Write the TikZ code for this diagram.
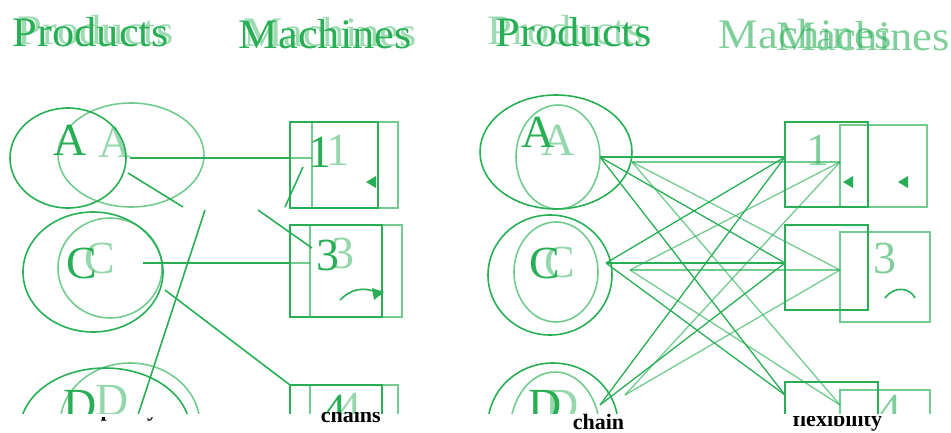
\documentclass[tikz,border=0pt]{standalone}
\usepackage{fontspec}
\setmainfont{Liberation Serif}
\definecolor{gr}{RGB}{40,175,85}
\begin{document}
\begin{tikzpicture}[x=1pt,y=-1pt,line width=1.6pt,
  g/.style={draw=gr},
  gl/.style={draw=gr,opacity=0.65},
  title/.style={text=gr,font=\fontsize{42}{42}\selectfont,anchor=base west,inner sep=0,xscale=1.06},
  lab/.style={text=gr,font=\fontsize{46}{46}\selectfont,inner sep=0},
  capt/.style={font=\bfseries\fontsize{22}{22}\selectfont,anchor=base west,inner sep=0}]
\useasboundingbox (0,0) rectangle (951,432);

% titles
\node[title] (pl1) at (12,46) {Products};
\node[title,opacity=.45] (pl2) at (17,44) {Products};
\node[title] (ml1) at (238,48) {Machines};
\node[title,opacity=.45] (ml2) at (243,46) {Machines};
\node[title] (pr1) at (495,46) {Products};
\node[title,opacity=.45] (pr2) at (487,44) {Products};
\node[title,opacity=.6] (mr1) at (718,48) {Machines};
\node[title,opacity=.6] (mr2) at (776,50) {Machines};

\begin{scope}
\clip (0,0) rectangle (951,413);
% ---------- left panel ----------
\draw[g] (68,158) ellipse [x radius=58,y radius=50];
\draw[gl] (131,155) ellipse [x radius=73,y radius=52];
\draw[g] (93,272) ellipse [x radius=70,y radius=60];
\draw[gl] (110,268) ellipse [x radius=52,y radius=50];
\draw[g] (105,430) ellipse [x radius=85,y radius=62];
\draw[gl] (130,425) ellipse [x radius=70,y radius=62];
\node[lab] (la1) at (70,140) {A};
\node[lab,opacity=.5] (la2) at (115,142) {A};
\node[lab] (lc1) at (82,263) {C};
\node[lab,opacity=.5] (lc2) at (100,258) {C};
\node[lab] (ld1) at (80,405) {D};
\node[lab,opacity=.5] (ld2) at (112,400) {D};

\draw[g] (290,122) rectangle (378,208);
\draw[gl] (312,122) rectangle (398,208);
\draw[g] (290,225) rectangle (382,317);
\draw[gl] (310,225) rectangle (402,317);
\draw[g] (290,385) rectangle (382,440);
\draw[gl] (310,385) rectangle (398,440);
\node[lab] (l11) at (320,152) {1};
\node[lab,opacity=.5] (l12) at (338,150) {1};
\node[lab] (l31) at (328,255) {3};
\node[lab,opacity=.5] (l32) at (343,253) {3};
\node[lab] (l41) at (335,410) {4};
\node[lab,opacity=.5] (l42) at (350,408) {4};
\fill[gr] (366,182) -- (376,176) -- (376,188) -- cycle;
\draw[g] (340,300) .. controls (355,285) and (370,288) .. (382,295);
\fill[gr] (372,288) -- (384,292) -- (374,300) -- cycle;

\draw[g,line width=2.4pt] (130,158) -- (290,158);
\draw[gl] (290,158) -- (312,158);
\draw[g,line width=2.4pt] (143,263) -- (290,263);
\draw[gl] (290,263) -- (310,263);
\draw[g] (128,173) -- (183,207);
\draw[g] (258,210) -- (312,248);
\draw[g] (205,210) -- (138,415);
\draw[g] (165,290) -- (290,385);
\draw[g] (285,207) -- (303,167);

% ---------- right panel ----------
\draw[g] (556,152) ellipse [x radius=76,y radius=57];
\draw[gl] (558,157) ellipse [x radius=42,y radius=52];
\draw[g] (550,275) ellipse [x radius=62,y radius=60];
\draw[gl] (556,272) ellipse [x radius=42,y radius=50];
\draw[g] (553,425) ellipse [x radius=65,y radius=62];
\draw[gl] (555,432) ellipse [x radius=45,y radius=60];
\node[lab] (ra1) at (538,132) {A};
\node[lab,opacity=.5] (ra2) at (558,140) {A};
\node[lab] (rc1) at (545,263) {C};
\node[lab,opacity=.5] (rc2) at (560,262) {C};
\node[lab] (rd1) at (545,405) {D};
\node[lab,opacity=.5] (rd2) at (562,405) {D};

\draw[g] (785,122) rectangle (868,207);
\draw[gl] (840,125) rectangle (927,207);
\draw[g] (785,225) rectangle (868,310);
\draw[gl] (840,232) rectangle (930,322);
\draw[g] (785,382) rectangle (878,440);
\draw[gl] (840,390) rectangle (930,440);
\node[lab,opacity=.6] (r11) at (818,150) {1};
\node[lab,opacity=.6] (r31) at (885,258) {3};
\node[lab,opacity=.6] (r41) at (890,410) {4};
\fill[gr] (843,182) -- (853,176) -- (853,188) -- cycle;
\fill[gr] (898,182) -- (908,176) -- (908,188) -- cycle;
\draw[g] (885,298) .. controls (895,285) and (910,288) .. (915,298);

% coordinates
\coordinate (A1) at (600,157); \coordinate (A2) at (632,162);
\coordinate (C1) at (606,263); \coordinate (C2) at (630,270);
\coordinate (D1) at (600,405); \coordinate (D2) at (625,395);
\coordinate (M11) at (785,157); \coordinate (M12) at (840,162);
\coordinate (M31) at (785,263); \coordinate (M32) at (840,270);
\coordinate (M41) at (785,395); \coordinate (M42) at (840,405);
\draw[g] (A1) -- (M11); \draw[gl] (A2) -- (M12);
\draw[g] (C1) -- (M31); \draw[gl] (C2) -- (M32);
\foreach \p/\m in {A1/M31,A1/M41,C1/M11,C1/M41,D1/M11,D1/M31}{\draw[g,line width=1.3pt] (\p) -- (\m);}
\foreach \p/\m in {A2/M32,A2/M42,C2/M12,C2/M42,D2/M12,D2/M32}{\draw[gl,line width=1.3pt] (\p) -- (\m);}
\end{scope}

% captions (clipped at top)
\begin{scope}
\clip (0,417) rectangle (300,432);
\node[capt] (cap0) at (79,416) {capacity};
\end{scope}
\begin{scope}
\clip (300,412) rectangle (480,432);
\node[capt] (cap1) at (320,422) {chains};
\end{scope}
\begin{scope}
\clip (480,412) rectangle (700,432);
\node[capt] (cap2) at (572,429) {chain};
\end{scope}
\begin{scope}
\clip (700,416) rectangle (951,432);
\node[capt] (cap3) at (792,426) {flexibility};
\end{scope}
\end{tikzpicture}
\end{document}
